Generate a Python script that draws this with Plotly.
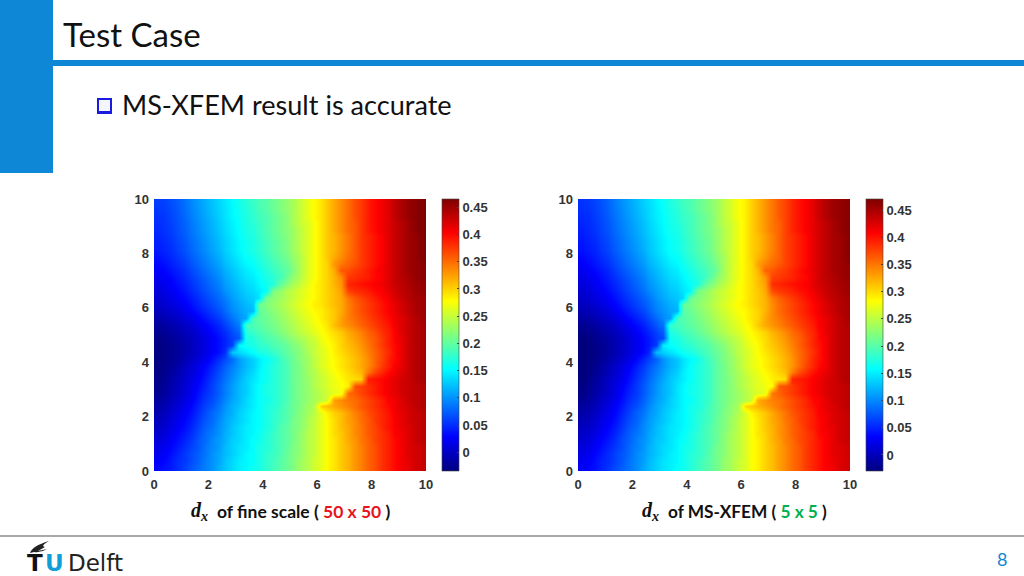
import plotly.graph_objects as go

x_vals = [0.125 + i * 0.25 for i in range(40)]
y_vals = [0.125 + i * 0.25 for i in range(40)]
z_fine = [
[.03,.035,.04,.05,.06,.07,.08,.09, .10,.115,.125,.135,.145,.15,.16,.165, .175,.185,.195,.205,.215,.23,.24,.255, .265,.28,.29,.305,.315,.33,.34,.355, .365,.38,.39,.40,.41,.415,.425,.43],
[.025,.03,.04,.05,.055,.065,.075,.09, .10,.11,.125,.135,.145,.15,.155,.165, .175,.185,.195,.205,.215,.23,.24,.255, .265,.28,.29,.305,.315,.33,.34,.355, .365,.38,.39,.40,.41,.415,.425,.43],
[.02,.025,.035,.045,.055,.065,.075,.085, .10,.11,.12,.13,.14,.15,.155,.165, .175,.18,.19,.205,.215,.225,.24,.25, .265,.28,.29,.305,.315,.33,.34,.355, .365,.38,.39,.40,.41,.42,.425,.43],
[.015,.02,.03,.04,.05,.06,.07,.085, .095,.105,.12,.13,.14,.145,.155,.165, .17,.18,.19,.20,.215,.225,.24,.25, .265,.28,.29,.305,.315,.33,.34,.355, .365,.38,.39,.40,.41,.42,.425,.43],
[.01,.015,.025,.035,.045,.055,.07,.08, .095,.105,.115,.13,.135,.145,.155,.16, .17,.18,.19,.20,.21,.225,.24,.25, .265,.28,.29,.305,.32,.33,.345,.355, .37,.38,.39,.40,.41,.42,.43,.435],
[.005,.01,.02,.03,.04,.05,.065,.08, .09,.10,.115,.125,.135,.145,.15,.16, .17,.18,.19,.20,.21,.225,.24,.25, .265,.28,.295,.305,.32,.335,.345,.36, .37,.38,.39,.405,.41,.42,.43,.435],
[0,.005,.015,.025,.035,.045,.06,.075, .085,.10,.11,.125,.135,.145,.15,.155, .165,.175,.19,.20,.21,.22,.235,.25, .265,.28,.295,.31,.32,.335,.345,.36, .37,.385,.395,.405,.415,.42,.43,.435],
[-.005,0,.01,.02,.03,.04,.055,.07, .08,.095,.11,.12,.13,.14,.15,.155, .165,.175,.185,.195,.21,.22,.235,.25, .265,.28,.295,.31,.325,.335,.35,.36, .375,.385,.395,.405,.415,.425,.43,.435],
[-.01,-.005,.005,.015,.025,.035,.05,.065, .08,.09,.105,.115,.13,.14,.15,.155, .165,.175,.185,.195,.205,.22,.23,.245, .265,.285,.30,.31,.325,.34,.35,.365, .375,.385,.395,.41,.415,.425,.43,.435],
[-.015,-.01,0,.01,.02,.03,.045,.06, .07,.085,.10,.115,.125,.135,.145,.155, .165,.17,.18,.195,.205,.215,.23,.24, .30,.31,.32,.33,.34,.35,.36,.37, .38,.39,.40,.41,.42,.425,.435,.44],
[-.02,-.015,-.005,.005,.015,.025,.04,.055, .065,.08,.095,.11,.12,.135,.145,.155, .16,.17,.18,.19,.205,.215,.225,.235, .245,.255,.325,.335,.345,.35,.36,.37, .38,.39,.405,.41,.42,.43,.435,.44],
[-.025,-.02,-.01,0,.01,.02,.035,.05, .06,.075,.09,.105,.12,.13,.145,.155, .165,.17,.18,.19,.205,.215,.225,.235, .245,.255,.265,.27,.35,.36,.37,.38, .39,.40,.41,.415,.425,.43,.435,.44],
[-.028,-.022,-.012,-.003,.008,.018,.03,.045, .06,.075,.09,.105,.12,.13,.145,.155, .165,.17,.18,.19,.205,.215,.225,.24, .25,.26,.27,.275,.285,.365,.37,.38, .39,.40,.41,.415,.425,.43,.435,.44],
[-.03,-.025,-.015,-.005,.005,.015,.025,.04, .055,.07,.085,.10,.115,.13,.14,.15, .16,.17,.18,.19,.205,.215,.225,.24, .25,.26,.27,.28,.29,.295,.30,.39, .395,.40,.41,.415,.425,.43,.44,.445],
[-.032,-.028,-.02,-.01,0,.01,.02,.035, .05,.065,.08,.095,.11,.125,.135,.15, .16,.17,.18,.19,.205,.215,.23,.24, .255,.265,.275,.285,.295,.305,.315,.345, .37,.385,.40,.41,.42,.43,.44,.445],
[-.032,-.028,-.022,-.012,-.002,.008,.018,.03, .045,.06,.075,.09,.105,.12,.13,.145, .16,.17,.18,.19,.205,.215,.23,.245, .26,.27,.28,.29,.30,.31,.32,.335, .355,.375,.39,.405,.415,.43,.44,.445],
[-.033,-.03,-.025,-.018,-.008,0,.01,.02, .035,.05,.065,.08,.105,.12,.13,.145, .155,.165,.18,.195,.205,.22,.23,.245, .26,.27,.28,.29,.30,.31,.32,.335, .355,.37,.39,.40,.415,.43,.44,.445],
[-.033,-.03,-.025,-.02,-.012,-.005,.005,.015, .025,.035,.05,.125,.135,.145,.155,.165, .17,.18,.19,.20,.21,.22,.235,.25, .26,.27,.285,.295,.305,.315,.325,.34, .355,.37,.385,.40,.415,.43,.44,.445],
[-.032,-.03,-.025,-.02,-.012,-.005,.005,.015, .025,.035,.045,.06,.15,.16,.165,.175, .18,.19,.195,.205,.215,.225,.24,.25, .265,.275,.285,.30,.31,.32,.33,.345, .36,.375,.39,.40,.415,.43,.44,.445],
[-.03,-.028,-.022,-.016,-.01,-.003,.005,.015, .025,.035,.045,.06,.07,.165,.17,.18, .19,.195,.205,.215,.225,.235,.245,.255, .27,.28,.29,.30,.315,.325,.335,.35, .36,.375,.39,.405,.415,.43,.44,.445],
[-.025,-.023,-.018,-.012,-.005,0,.01,.02, .03,.04,.05,.065,.08,.17,.18,.19, .195,.205,.215,.225,.235,.245,.255,.265, .275,.285,.295,.305,.32,.33,.34,.355, .365,.38,.39,.405,.42,.43,.44,.445],
[-.02,-.018,-.012,-.006,0,.007,.017,.027, .037,.047,.06,.075,.09,.185,.19,.195, .205,.21,.22,.23,.24,.25,.26,.27, .28,.29,.31,.325,.335,.345,.355,.365, .375,.385,.395,.41,.42,.43,.44,.445],
[-.012,-.01,-.004,.002,.01,.017,.027,.037, .047,.057,.07,.085,.10,.11,.19,.20, .205,.215,.225,.235,.245,.255,.265,.275, .285,.295,.305,.325,.34,.35,.36,.37, .38,.39,.40,.41,.42,.43,.44,.45],
[-.005,-.002,.004,.01,.018,.027,.037,.047, .057,.067,.08,.095,.105,.115,.12,.20, .21,.22,.23,.24,.25,.26,.27,.28, .285,.295,.305,.32,.34,.355,.365,.375, .385,.395,.405,.415,.425,.435,.445,.45],
[.002,.005,.012,.018,.026,.035,.045,.055, .065,.075,.085,.10,.11,.12,.125,.205, .215,.225,.235,.245,.255,.265,.275,.285, .29,.30,.31,.32,.34,.355,.365,.375, .385,.395,.405,.415,.425,.435,.445,.45],
[.006,.01,.017,.024,.032,.04,.05,.06, .07,.08,.09,.105,.115,.125,.13,.14, .21,.22,.23,.24,.25,.26,.27,.28, .29,.30,.31,.32,.345,.36,.37,.38, .39,.40,.41,.42,.43,.44,.445,.45],
[.01,.015,.022,.03,.038,.047,.057,.067, .077,.087,.10,.11,.12,.13,.135,.145, .155,.215,.225,.24,.25,.26,.27,.28, .29,.30,.31,.325,.37,.38,.385,.39, .40,.405,.415,.425,.435,.44,.45,.455],
[.015,.02,.027,.035,.043,.052,.062,.072, .082,.092,.105,.115,.125,.135,.14,.15, .16,.17,.20,.22,.235,.25,.265,.28, .29,.30,.315,.33,.385,.39,.395,.40, .405,.41,.42,.43,.435,.445,.45,.455],
[.02,.025,.03,.04,.048,.057,.067,.077, .087,.097,.11,.12,.13,.14,.145,.155, .165,.175,.185,.205,.225,.24,.26,.275, .29,.30,.315,.335,.375,.38,.385,.39, .40,.405,.42,.43,.44,.445,.455,.46],
[.025,.03,.037,.045,.053,.063,.073,.083, .093,.103,.115,.125,.135,.145,.15,.16, .17,.18,.19,.20,.215,.24,.26,.275, .29,.30,.32,.36,.365,.375,.38,.39, .40,.41,.42,.43,.44,.45,.455,.46],
[.03,.035,.042,.05,.058,.068,.078,.088, .098,.108,.12,.13,.14,.15,.155,.165, .175,.185,.195,.205,.22,.24,.26,.275, .29,.30,.33,.345,.355,.365,.375,.385, .395,.405,.42,.43,.44,.45,.455,.46],
[.035,.04,.047,.055,.063,.073,.083,.093, .103,.113,.125,.135,.145,.155,.16,.17, .18,.19,.20,.21,.225,.24,.26,.275, .29,.305,.32,.335,.35,.36,.375,.385, .395,.405,.42,.43,.44,.45,.455,.465],
[.04,.045,.05,.06,.068,.078,.088,.098, .108,.118,.13,.14,.15,.16,.165,.175, .185,.195,.205,.215,.23,.245,.26,.275, .29,.305,.315,.33,.345,.36,.375,.385, .395,.405,.42,.43,.44,.45,.455,.465],
[.042,.047,.053,.062,.07,.08,.09,.10, .11,.12,.13,.14,.15,.16,.165,.175, .185,.195,.205,.215,.23,.245,.26,.275, .29,.305,.315,.33,.345,.36,.375,.385, .395,.405,.42,.43,.44,.45,.455,.465],
[.045,.05,.056,.065,.073,.083,.093,.103, .113,.123,.133,.143,.153,.163,.168,.178, .188,.198,.208,.218,.23,.245,.26,.275, .29,.305,.315,.33,.345,.36,.375,.385, .395,.405,.42,.43,.44,.45,.455,.465],
[.047,.052,.058,.067,.075,.085,.095,.105, .115,.125,.135,.145,.155,.165,.17,.18, .19,.20,.21,.22,.23,.245,.26,.275, .29,.305,.32,.335,.35,.36,.375,.39, .40,.41,.42,.43,.44,.45,.46,.465],
[.05,.053,.06,.068,.077,.087,.097,.107, .117,.127,.137,.147,.157,.167,.172,.182, .19,.20,.21,.22,.235,.25,.26,.275, .29,.305,.32,.335,.35,.36,.375,.39, .40,.41,.42,.43,.44,.45,.46,.465],
[.052,.055,.062,.07,.08,.09,.10,.11, .12,.13,.14,.15,.158,.168,.175,.185, .19,.20,.21,.22,.235,.25,.265,.28, .29,.305,.32,.335,.35,.365,.375,.39, .40,.41,.42,.435,.445,.455,.46,.465],
[.055,.058,.064,.072,.082,.092,.102,.112, .122,.132,.14,.15,.16,.17,.177,.187, .195,.205,.215,.225,.235,.25,.265,.28, .29,.305,.32,.335,.35,.365,.375,.39, .40,.41,.42,.435,.445,.455,.46,.465],
[.057,.06,.066,.074,.084,.094,.104,.114, .124,.134,.142,.152,.162,.172,.18,.19, .195,.205,.215,.225,.235,.25,.265,.28, .29,.305,.32,.335,.35,.365,.375,.39, .40,.41,.42,.435,.445,.455,.46,.465],
]
z_ms = z_fine
axis_ticks = [0, 2, 4, 6, 8, 10]
cbar_ticks = [0, .05, .1, .15, .2, .25, .3, .35, .4, .45]
cbar_labels = ["0", "0.05", "0.1", "0.15", "0.2", "0.25", "0.3", "0.35", "0.4", "0.45"]
jet = [[0, "#00007f"], [.125, "#0000ff"], [.375, "#00ffff"], [.625, "#ffff00"], [.875, "#ff0000"], [1, "#7f0000"]]

W, H = 1024, 576
def px(v): return v / W
def py(v): return 1 - v / H

tickfont = dict(family="Liberation Sans", size=13, color="#333333", weight="bold")
fig = go.Figure()
for i, (z, xa, ya, ca) in enumerate([(z_fine, "x", "y", "coloraxis"), (z_ms, "x2", "y2", "coloraxis2")]):
    fig.add_trace(go.Heatmap(x=x_vals, y=y_vals, z=z, xaxis=xa, yaxis=ya, coloraxis=ca, zsmooth="best", hoverinfo="skip"))

def cax(x0, zmin, zmax):
    return dict(cmin=zmin, cmax=zmax, colorscale=jet, colorbar=dict(
        x=px(x0), xanchor="left", xref="paper", y=py(471), yanchor="bottom", yref="paper",
        len=272 / H, lenmode="fraction", thickness=17, thicknessmode="pixels",
        outlinewidth=0.6, outlinecolor="#444444", xpad=0, ypad=0,
        tickmode="array", tickvals=cbar_ticks, ticktext=cbar_labels,
        ticks="inside", ticklen=2, tickcolor="#444444", tickfont=tickfont))

def ax(d0, d1, anchor, standoff):
    return dict(domain=[d0, d1], range=[0, 10], tickmode="array", tickvals=axis_ticks,
                ticks="", showgrid=False, zeroline=False, showline=False, automargin=False,
                tickfont=tickfont, anchor=anchor, ticklabelstandoff=standoff)

fig.update_layout(
    width=W, height=H, autosize=False, margin=dict(l=0, r=0, t=0, b=0, pad=0, autoexpand=False),
    paper_bgcolor="white", plot_bgcolor="white", showlegend=False,
    coloraxis=cax(441.5, -.0343, .4652), coloraxis2=cax(865.5, -.0294, .4702),
    xaxis=ax(px(154), px(426), "y", 4), yaxis=ax(py(471), py(199), "x", 4),
    xaxis2=ax(px(578), px(850), "y2", 4), yaxis2=ax(py(471), py(199), "x2", 4),
)

blue = "#0f87d7"
def rect(x0, y0, x1, y1, **kw):
    fig.add_shape(type="rect", xref="paper", yref="paper", x0=px(x0), x1=px(x1), y0=py(y0), y1=py(y1), **kw)
rect(0, 0, 53, 173, fillcolor=blue, line_width=0)
rect(53, 60, 1024, 66, fillcolor=blue, line_width=0)
rect(97, 98, 112, 114, fillcolor="#1a1ae0", line_width=0)
rect(99, 100, 110, 111, fillcolor="#f4f6fb", line_width=0)
fig.add_shape(type="line", xref="paper", yref="paper", x0=0, x1=1, y0=py(536), y1=py(536), line=dict(color="#555555", width=1.2))
# flame of the logo
fig.add_shape(type="path", xref="paper", yref="paper",
    path=f"M {px(30)} {py(553)} Q {px(32)} {py(546)} {px(49)} {py(541)} Q {px(40)} {py(546)} {px(45)} {py(547)} L {px(38)} {py(551)} L {px(47)} {py(549)} Q {px(41)} {py(553)} {px(34)} {py(552)} Z",
    fillcolor="#222222", line_width=0)

def txt(x, y, s, size, color="#111111", anchor="left", family="Lato"):
    fig.add_annotation(xref="paper", yref="paper", x=px(x), y=py(y), text=s, showarrow=False,
        xanchor=anchor, yanchor="middle", align=anchor, borderpad=0,
        font=dict(family=family, size=size, color=color))

dx = '<b><i><span style="font-family:\'Liberation Serif\'">d</span></i><sub><i><span style="font-family:\'Liberation Serif\'">x</span></i></sub></b>'
txt(62, 34, "Test Case", 33)
txt(121, 105, "MS-XFEM result is accurate", 27.1)
txt(190, 511, dx, 20)
txt(216, 511, '<b>of fine scale ( <span style="color:#e8141c">50 x 50</span> )</b>', 17.5)
txt(641, 511, dx, 20)
txt(667, 511, '<b>of MS-XFEM ( <span style="color:#00b050">5 x 5</span> )</b>', 17.3)
txt(1002, 559, "8", 18, color=blue, anchor="center")
txt(26, 563, "<b>T</b>", 23, color="#111111", family="DejaVu Sans")
txt(44, 563, "<b>U</b>", 23, color="#0f9ed8", family="DejaVu Sans")
txt(67, 563, "Delft", 23, color="#222222", family="DejaVu Sans")

fig.write_html("out.html", config={"displayModeBar": False},
               post_script="document.body.style.margin='0';document.body.style.overflow='hidden';")
